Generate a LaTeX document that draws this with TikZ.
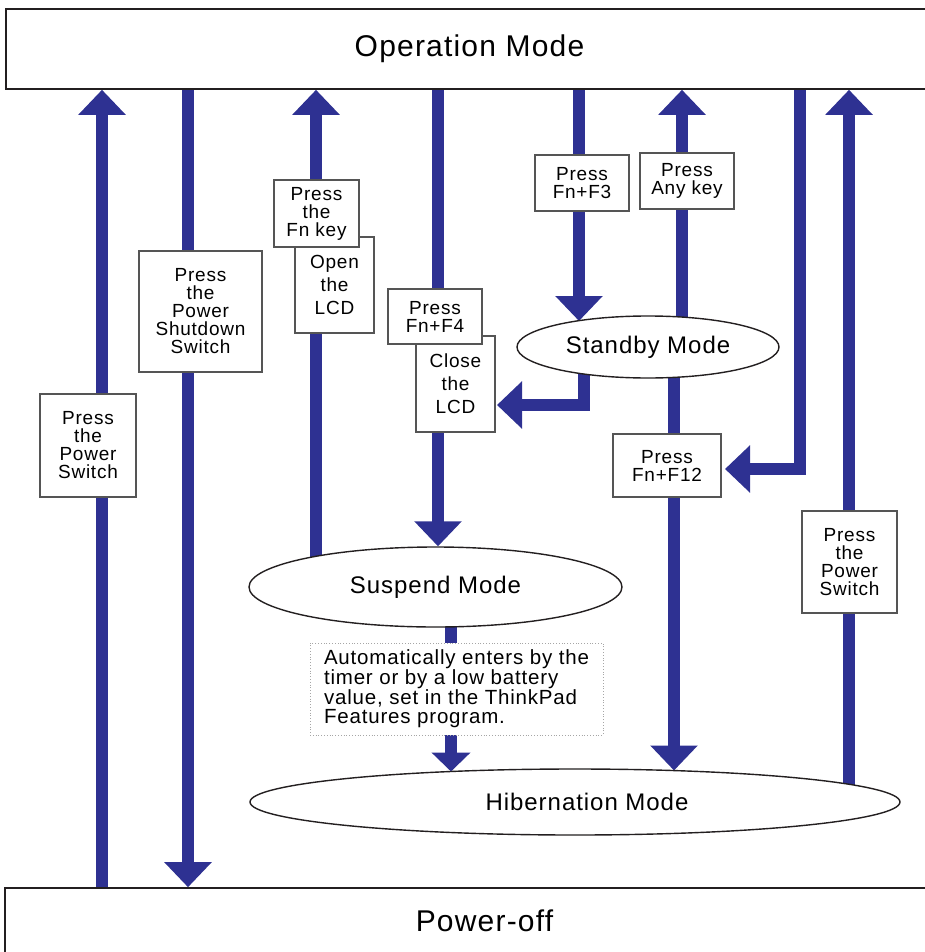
\documentclass[tikz,border=0pt]{standalone}
\usepackage{fontspec}
\setmainfont{Liberation Sans}[LetterSpace=4]
\usepackage{xcolor}
\usepackage{tikz}
\usetikzlibrary{arrows.meta,shapes.geometric,backgrounds}
\definecolor{pmblue}{HTML}{2E3192}
\definecolor{pmgray}{HTML}{555555}
\definecolor{pmdark}{HTML}{231F20}

\begin{document}
\begin{tikzpicture}[x=1pt,y=-1pt,
  modebar/.style={draw=pmdark,line width=1.6pt,fill=white,inner sep=0pt,font=\fontsize{30}{32}\selectfont},
  mode/.style={ellipse,draw=pmdark,line width=1.4pt,fill=white,inner sep=0pt,font=\fontsize{24}{26}\selectfont},
  keybox/.style={draw=pmgray,line width=1.2pt,fill=white,align=center,inner sep=0pt,font=\fontsize{19}{18}\selectfont},
  lcdbox/.style={keybox,font=\fontsize{19}{23}\selectfont},
  autobox/.style={draw=gray!70,dotted,line width=0.8pt,fill=white,align=left,inner sep=0pt,font=\fontsize{20.5}{19}\selectfont},
  flow/.style={pmblue,line width=12pt,-{Triangle[width=46pt,length=25pt]}},
  smallflow/.style={pmblue,line width=12pt,-{Triangle[width=38pt,length=19pt]}}]
  \useasboundingbox (0,0) rectangle (924,952);
  % the two bars
  \node[modebar,minimum width=921pt,minimum height=80pt] (op) at (466.5,49) {\hspace*{6pt}Operation Mode};
  \node[modebar,minimum width=925pt,minimum height=66pt] (off) at (467.5,921) {\hspace*{34pt}Power-off};
  % modes
  \node[mode,minimum width=262pt,minimum height=62pt] (stby) at (648,347) {Standby Mode};
  \node[mode,minimum width=373pt,minimum height=80pt] (susp) at (435.5,587) {Suspend Mode};
  \node[mode,minimum width=650pt,minimum height=66pt] (hib) at (575,802) {\hspace*{24pt}Hibernation Mode};
  % key boxes
  \node[keybox,minimum width=96pt,minimum height=103pt] (pw1) at (88,445.5) {Press\\the\\Power\\Switch};
  \node[keybox,minimum width=123pt,minimum height=121pt] (shut) at (200.5,311.5) {Press\\the\\Power\\Shutdown\\Switch};
  \node[lcdbox,minimum width=79pt,minimum height=96pt] (open) at (334.5,285) {Open\\the\\LCD};
  \node[keybox,minimum width=85pt,minimum height=67pt] (fnkey) at (316.5,213.5) {Press\\the\\Fn key};
  \node[lcdbox,minimum width=79pt,minimum height=96pt] (close) at (455.5,384) {Close\\the\\LCD};
  \node[keybox,minimum width=94pt,minimum height=55pt] (f4) at (435,316.5) {Press\\Fn+F4};
  \node[keybox,minimum width=94pt,minimum height=56pt] (f3) at (582,183) {Press\\Fn+F3};
  \node[keybox,minimum width=94pt,minimum height=56pt] (anykey) at (687,181) {Press\\Any key};
  \node[keybox,minimum width=108pt,minimum height=63pt] (f12) at (667,465.5) {Press\\Fn+F12};
  \node[keybox,minimum width=95pt,minimum height=102pt] (pw2) at (849.5,562) {Press\\the\\Power\\Switch};
  \node[autobox,minimum width=293pt,minimum height=92pt] (auto) at (456.5,689) {Automatically enters by the\\timer or by a low battery\\value, set in the ThinkPad\\Features program.};
  % columns and tips
  \coordinate (c1) at (102,0); \coordinate (c2) at (188,0); \coordinate (c3) at (316,0);
  \coordinate (c4) at (438,0); \coordinate (c5) at (579,0); \coordinate (c6) at (682,0);
  \coordinate (c7) at (800,0); \coordinate (c8) at (849,0); \coordinate (c9) at (584,0);
  \coordinate (c10) at (674,0); \coordinate (c11) at (451,0);
  \coordinate (t5) at (579,321); \coordinate (t7) at (725,469); \coordinate (t9) at (497,405);
  \coordinate (t10) at (674,770.5); \coordinate (t11) at (451,771.5);
  \begin{scope}[on background layer]
    \draw[flow] (off.north -| c1) -- (op.south -| c1);
    \draw[flow] (op.south -| c2) -- (off.north -| c2);
    \draw[flow] (c3 |- susp.center) -- (op.south -| c3);
    \draw[flow] (op.south -| c4) -- (c4 |- susp.north);
    \draw[flow] (op.south -| c5) -- (t5);
    \draw[flow] (c6 |- stby.center) -- (op.south -| c6);
    \draw[flow] (op.south -| c7) |- (t7);
    \draw[flow] (c8 |- hib.center) -- (op.south -| c8);
    \draw[flow] (c9 |- stby.center) |- (t9);
    \draw[flow] (c10 |- stby.center) -- (t10);
    \draw[smallflow] (c11 |- susp.center) -- (t11);
  \end{scope}
\end{tikzpicture}
\end{document}
